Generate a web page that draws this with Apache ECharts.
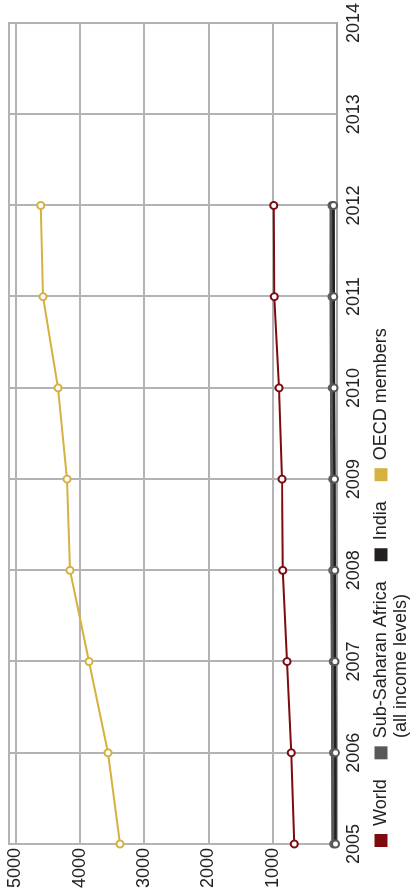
<!DOCTYPE html>
<html>
<head>
<meta charset="utf-8">
<script src="https://cdn.jsdelivr.net/npm/echarts@6/dist/echarts.min.js"></script>
<style>
  html, body { margin: 0; padding: 0; background: #fff; overflow: hidden; }
  #wrap { position: absolute; left: 0; top: 0; width: 411px; height: 894px; overflow: hidden; }
  /* the chart is laid out landscape and turned a quarter turn counter-clockwise */
  #chart {
    position: absolute; left: 0; top: 0;
    width: 894px; height: 411px;
    transform-origin: 0 0;
    transform: translateY(894px) rotate(-90deg);
  }
</style>
</head>
<body>
<div id="wrap"><div id="chart"></div></div>
<script>
// Years on the category axis
const years = ['2005', '2006', '2007', '2008', '2009', '2010', '2011', '2012', '2013', '2014'];

// Series values, 2005–2012
const worldValues = [663, 710, 776, 843, 854, 900, 974, 983];
const ssaValues = [50, 55, 60, 66, 68, 72, 78, 78];
const indiaValues = [22, 25, 30, 34, 38, 45, 52, 55];
const oecdValues = [3374, 3561, 3856, 4151, 4197, 4337, 4570, 4606];

// Value axis ticks
const valueTicks = [1000, 2000, 3000, 4000, 5000];

const seriesNames = ['World', 'Sub-Saharan Africa (all income levels)', 'India', 'OECD members'];
const seriesColors = ['#7d0b10', '#59595b', '#231f20', '#d5b240'];
const markerColors = ['#7d0b10', '#5e5e60', '#555557', '#d5b240'];

const FONT = '"Liberation Sans", Arial, sans-serif';
const chart = echarts.init(document.getElementById('chart'), null, { renderer: 'canvas' });

function lineSeries(i, data, lineWidth) {
  return {
    name: seriesNames[i],
    type: 'line',
    data: data,
    symbol: 'emptyCircle',
    symbolSize: 7,
    showSymbol: true,
    lineStyle: { color: seriesColors[i], width: lineWidth },
    itemStyle: { color: markerColors[i], borderColor: markerColors[i], borderWidth: 2 },
    emphasis: { disabled: true },
    animation: false
  };
}

chart.setOption({
  backgroundColor: '#ffffff',
  animation: false,
  grid: {
    left: 50, right: 22, top: 9, bottom: 74,
    show: true, borderColor: '#a5a5a7', borderWidth: 2, backgroundColor: 'transparent'
  },
  legend: {
    left: 47, top: 372, padding: 0,
    itemWidth: 13, itemHeight: 13, itemGap: 20,
    icon: 'rect',
    selectedMode: false,
    formatter: function (name) {
      return name === seriesNames[1] ? 'Sub-Saharan Africa' : name;
    },
    textStyle: { fontFamily: FONT, fontSize: 18, color: '#222', padding: [0, 0, 0, 3] },
    data: seriesNames.map(function (n, i) {
      return { name: n, icon: 'rect', itemStyle: { color: seriesColors[i], borderWidth: 0 } };
    })
  },
  graphic: [{
    type: 'text',
    left: 156, top: 392,
    style: { text: '(all income levels)', font: '18px ' + FONT, fill: '#222' }
  }],
  xAxis: {
    type: 'category',
    data: years,
    boundaryGap: false,
    axisLine: { show: true, lineStyle: { color: '#a5a5a7', width: 2 } },
    axisTick: { show: false },
    axisLabel: { margin: 8, fontFamily: FONT, fontSize: 18, color: '#222' },
    splitLine: { show: true, lineStyle: { color: '#b3b3b5', width: 2 } }
  },
  yAxis: {
    type: 'value',
    min: 0,
    max: 5100,
    interval: 1000,
    axisLine: { show: false },
    axisTick: { show: false },
    axisLabel: {
      margin: 4, fontFamily: FONT, fontSize: 18, color: '#222',
      showMinLabel: false,
      showMaxLabel: false,
      formatter: function (v) { return valueTicks.indexOf(v) >= 0 ? String(v) : ''; }
    },
    splitLine: { show: true, lineStyle: { color: '#b3b3b5', width: 2 } }
  },
  series: [
    lineSeries(0, worldValues, 2),
    lineSeries(1, ssaValues, 5),
    lineSeries(2, indiaValues, 2.5),
    lineSeries(3, oecdValues, 2)
  ]
});
</script>
</body>
</html>
